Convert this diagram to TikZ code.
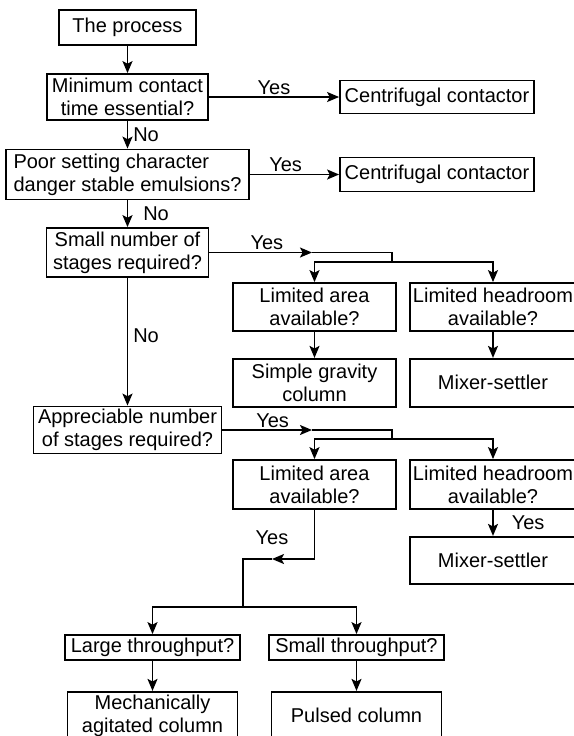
\documentclass[tikz,border=0pt]{standalone}
\usepackage{fontspec}
\setmainfont{Liberation Sans}
\usepackage{tikz}
\usetikzlibrary{positioning, arrows.meta}

\begin{document}
\begin{tikzpicture}[
    x=0.5pt, y=-0.5pt,
    box/.style={draw, line width=0.9pt, align=center, inner xsep=1.5pt, inner ysep=1pt, font=\fontsize{10}{11.5}\selectfont},
    arr/.style={-{Stealth[length=6pt, width=5pt, inset=1.3pt]}, line width=0.8pt},
    link/.style={line width=0.8pt},
    lbl/.style={font=\fontsize{10}{11.5}\selectfont, inner sep=1pt}
]
\clip (0,0) rectangle (574,736);

% Main column of questions
\node[box, minimum width=68.5pt, minimum height=17.5pt] (process) at (127.5,27.5) {The process};
\node[box, minimum width=80.5pt, minimum height=23pt] (mincontact) at (127.5,97) {Minimum contact\\time essential?};
\node[box, align=left, minimum width=121.5pt, minimum height=25pt] (poor) at (127.5,174.5) {Poor setting character\\danger stable emulsions?};
\node[box, minimum width=81pt, minimum height=24.5pt] (fewstages) at (127.5,252.5) {Small number of\\stages required?};
\node[box, minimum width=94pt, minimum height=23.5pt] (manystages) at (127.5,430) {Appreciable number\\of stages required?};

% Centrifugal contactors
\node[box, minimum width=97pt, minimum height=16.5pt] (centrifA) at (437,97) {Centrifugal contactor};
\node[box, minimum width=97pt, minimum height=17pt] (centrifB) at (437,174.5) {Centrifugal contactor};

% Few stages: area or headroom
\node[box, minimum width=81.5pt, minimum height=24pt] (areaA) at (314.5,307) {Limited area\\available?};
\node[box, minimum width=83pt, minimum height=24pt] (headA) at (493,307) {Limited headroom\\available?};
\node[box, minimum width=81.5pt, minimum height=24pt, below=13pt of areaA] (gravity) {Simple gravity\\column};
\node[box, minimum width=83pt, minimum height=24pt, below=13pt of headA] (mixerA) {Mixer-settler};

% Many stages: area or headroom
\node[box, minimum width=81.5pt, minimum height=24.5pt] (areaB) at (314.5,484.5) {Limited area\\available?};
\node[box, minimum width=83pt, minimum height=24.5pt] (headB) at (493,484.5) {Limited headroom\\available?};
\node[box, minimum width=83pt, minimum height=23.5pt, below=13pt of headB] (mixerB) {Mixer-settler};

% Throughput choice
\node[box, minimum width=87.5pt, minimum height=12.5pt] (large) at (152.5,647.5) {Large throughput?};
\node[box, minimum width=87.5pt, minimum height=12.5pt] (smallthru) at (356.5,647.5) {Small throughput?};
\node[box, minimum width=85pt, minimum height=24pt, below=15pt of large] (mechcol) {Mechanically\\agitated column};
\node[box, minimum width=85pt, minimum height=24pt, below=15pt of smallthru] (pulsedcol) {Pulsed column};

% Junctions
\coordinate (yesA) at (312,252.5);
\coordinate (splitA) at (392,262);
\coordinate (yesB) at (312,430);
\coordinate (splitB) at (392,439);
\coordinate (yesC) at (272,559);
\coordinate (splitC) at (243,607);

% Down the main column
\draw[arr] (process) -- (mincontact);
\draw[arr] (mincontact) -- node[lbl, right=1.5pt] {No} (poor);
\draw[arr] (poor) -- node[lbl, right=6.5pt] {No} (fewstages);
\draw[arr] (fewstages) -- node[lbl, right=1.5pt, pos=0.45] {No} (manystages);

% Yes branches to the right
\draw[arr] (mincontact) -- node[lbl, above] {Yes} (centrifA);
\draw[arr] (poor) -- node[lbl, above, pos=0.4] {Yes} (centrifB);

\draw[arr] (fewstages) -- node[lbl, above, pos=0.56] {Yes} (yesA);
\draw[link] (yesA) -| (splitA);
\draw[arr] (splitA) -| (areaA);
\draw[arr] (splitA) -| (headA);
\draw[arr] (areaA) -- (gravity);
\draw[arr] (headA) -- (mixerA);

\draw[arr] (manystages) -- node[lbl, above, pos=0.56] {Yes} (yesB);
\draw[link] (yesB) -| (splitB);
\draw[arr] (splitB) -| (areaB);
\draw[arr] (splitB) -| (headB);
\draw[arr] (headB) -- node[lbl, right=8pt] {Yes} (mixerB);

% Back to the left for throughput
\draw[arr] (areaB) |- node[lbl, above=6pt, pos=1] {Yes} (yesC);
\draw[link] (yesC) -| (splitC);
\draw[arr] (splitC) -| (large);
\draw[arr] (splitC) -| (smallthru);
\draw[arr] (large) -- (mechcol);
\draw[arr] (smallthru) -- (pulsedcol);

\end{tikzpicture}
\end{document}
